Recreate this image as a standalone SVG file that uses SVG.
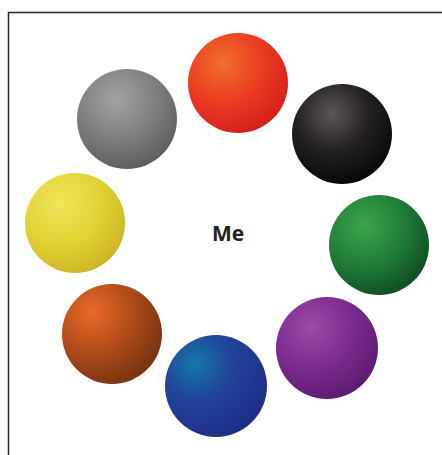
<svg xmlns="http://www.w3.org/2000/svg" width="442" height="455" viewBox="0 0 442 455">
<style>
.label{font-family:"Open Sans","Liberation Sans",sans-serif;font-weight:bold;font-size:21px;fill:#231f20;text-anchor:middle}
.frame{fill:none;stroke:#2a2a2a;stroke-width:1.5}
</style>
<defs>
<radialGradient id="gRed" cx="0.35" cy="0.3" r="0.75" fx="0.35" fy="0.3">
<stop offset="0" stop-color="#f26f2b"/><stop offset="0.55" stop-color="#ea3a22"/><stop offset="1" stop-color="#d41f1c"/></radialGradient>
<radialGradient id="gBlack" cx="0.4" cy="0.3" r="0.75" fx="0.4" fy="0.3">
<stop offset="0" stop-color="#5c5557"/><stop offset="0.5" stop-color="#232021"/><stop offset="1" stop-color="#050505"/></radialGradient>
<radialGradient id="gGray" cx="0.4" cy="0.3" r="0.75" fx="0.4" fy="0.3">
<stop offset="0" stop-color="#a3a3a3"/><stop offset="0.55" stop-color="#7d7d7d"/><stop offset="1" stop-color="#5a5a5a"/></radialGradient>
<radialGradient id="gYellow" cx="0.35" cy="0.3" r="0.75" fx="0.35" fy="0.3">
<stop offset="0" stop-color="#eee55c"/><stop offset="0.55" stop-color="#e2d233"/><stop offset="1" stop-color="#cdb424"/></radialGradient>
<radialGradient id="gGreen" cx="0.35" cy="0.3" r="0.75" fx="0.35" fy="0.3">
<stop offset="0" stop-color="#3ca54b"/><stop offset="0.55" stop-color="#207c38"/><stop offset="1" stop-color="#0f4d22"/></radialGradient>
<radialGradient id="gPurple" cx="0.35" cy="0.3" r="0.75" fx="0.35" fy="0.3">
<stop offset="0" stop-color="#9a4ca6"/><stop offset="0.55" stop-color="#7b2a8f"/><stop offset="1" stop-color="#5b1b6e"/></radialGradient>
<radialGradient id="gBlue" cx="0.3" cy="0.28" r="0.75" fx="0.3" fy="0.28">
<stop offset="0" stop-color="#137aa6"/><stop offset="0.45" stop-color="#214599"/><stop offset="1" stop-color="#1f2f86"/></radialGradient>
<radialGradient id="gBrown" cx="0.3" cy="0.28" r="0.75" fx="0.3" fy="0.28">
<stop offset="0" stop-color="#ea6a28"/><stop offset="0.5" stop-color="#b44d1a"/><stop offset="1" stop-color="#7c3512"/></radialGradient>
</defs>
<rect x="0" y="0" width="442" height="455" fill="#ffffff"/>
<path class="frame" d="M8.5,455 V12.5 H442"/>
<g id="connectors"/>
<g id="node-red"><circle cx="238" cy="83" r="50" fill="url(#gRed)"/></g>
<g id="node-black"><circle cx="342" cy="134" r="50" fill="url(#gBlack)"/></g>
<g id="node-gray"><circle cx="127" cy="119" r="50" fill="url(#gGray)"/></g>
<g id="node-yellow"><circle cx="75" cy="223" r="50" fill="url(#gYellow)"/></g>
<g id="node-green"><circle cx="379" cy="245" r="50" fill="url(#gGreen)"/></g>
<g id="node-brown"><circle cx="112" cy="334" r="50" fill="url(#gBrown)"/></g>
<g id="node-purple"><circle cx="327" cy="348" r="51" fill="url(#gPurple)"/></g>
<g id="node-blue"><circle cx="216" cy="386" r="51" fill="url(#gBlue)"/></g>
<g id="node-me"><text class="label" x="228" y="241">Me</text></g>
</svg>
